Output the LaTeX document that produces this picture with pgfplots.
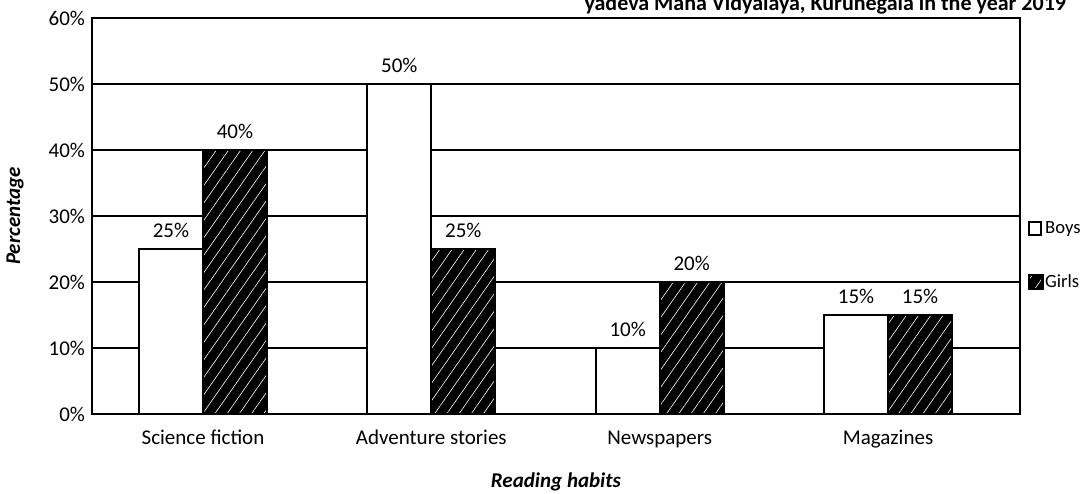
\documentclass[border=0pt]{standalone}
\usepackage{fontspec}
\setmainfont{Carlito}
\usepackage{pgfplots}
\pgfplotsset{compat=1.18}
\usetikzlibrary{patterns.meta}

\begin{document}
\begin{tikzpicture}
\begin{axis}[name=ax,
  scale only axis, width=464pt, height=198pt,
  ybar=0pt, bar width=32pt,
  ymin=0, ymax=60, ytick={0,10,...,60},
  yticklabel={\pgfmathprintnumber{\tick}\%},
  xmin=-0.486, xmax=3.578, xtick={0,1,2,3},
  xticklabels={Science fiction, Adventure stories, Newspapers, Magazines},
  xticklabel style={anchor=base, yshift=-15.5pt},
  /pgf/number format/assume math mode=true,
  tick label style={font=\fontsize{10.5}{12}\selectfont},
  major tick length=0pt,
  ymajorgrids, major grid style={black, line width=0.6pt},
  axis line style={black, line width=1.3pt},
  xlabel={\textbf{\textit{Reading habits}}},
  ylabel={\textbf{\textit{Percentage}}},
  label style={font=\fontsize{10.5}{12}\selectfont},
  xlabel style={at={(axis description cs:0.5,-0.172)}, anchor=center},
  ylabel style={at={(axis description cs:-0.083,0.5)}, anchor=center},
  nodes near coords={\pgfmathprintnumber{\pgfplotspointmeta}\%},
  nodes near coords style={font=\fontsize{10.5}{12}\selectfont, yshift=2pt},
  legend style={at={(1.008,0.40)}, anchor=west, draw=none, fill=none,
    font=\fontsize{9.3}{11}\selectfont, row sep=15pt, inner sep=0pt,
    nodes={inner xsep=0.8pt}},
  legend cell align=left,
]
\addplot[draw=black, line width=1.1pt, fill=white,
  legend image code/.code={\draw[black, line width=1pt, fill=white] (0pt,-3.1pt) rectangle (6.2pt,3.1pt);}]
  coordinates {(0,25) (1,50) (2,10) (3,15)};
\addplot[draw=black, line width=1.1pt, fill=black,
  postaction={pattern={Lines[angle=55, distance=5pt, line width=0.3pt]}, pattern color=white},
  legend image code/.code={\fill[black] (0pt,-3.4pt) rectangle (6.8pt,3.4pt);}]
  coordinates {(0,40) (1,25) (2,20) (3,15)};
\legend{Boys, Girls}
\end{axis}
\node[anchor=base east, font=\bfseries\fontsize{11}{13}\selectfont]
  at ([xshift=26.5pt, yshift=3.5pt]ax.north east)
  {yadeva Maha Vidyalaya, Kurunegala in the year 2019};
\pgfresetboundingbox
\path[use as bounding box] ([xshift=-46pt, yshift=-40pt]ax.south west)
  rectangle ([xshift=31.5pt, yshift=9pt]ax.north east);
\end{tikzpicture}
\end{document}
